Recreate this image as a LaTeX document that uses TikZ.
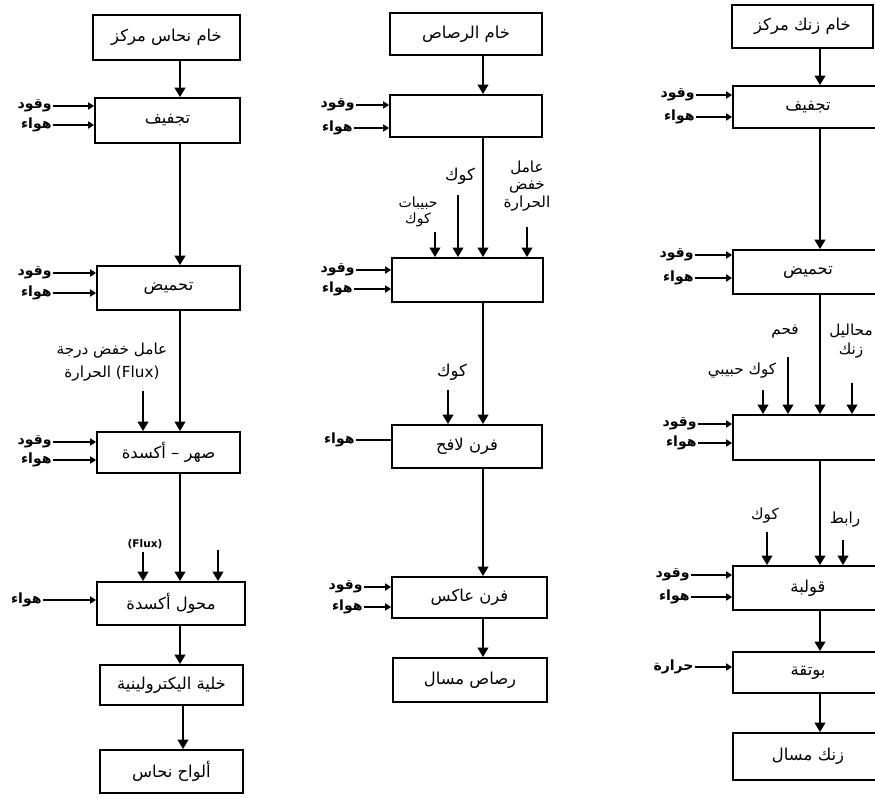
\documentclass[tikz,border=0pt]{standalone}
\usepackage{fontspec}
\setmainfont{DejaVu Sans}
\newfontfamily\arabicfont[Script=Arabic]{DejaVu Sans}
\TeXXeTstate=1
\usetikzlibrary{arrows.meta}
\newcommand{\artxt}[1]{{\arabicfont\beginR #1\endR}}
\begin{document}
\begin{tikzpicture}[x=0.3mm,y=-0.3mm,
  box/.style={draw, line width=1.6pt, inner sep=2pt, font=\fontsize{14}{16}\selectfont},
  wh/.style 2 args={minimum width=#1*0.3mm, minimum height=#2*0.3mm},
  lbl/.style={inner sep=1pt, font=\bfseries\fontsize{12}{14}\selectfont},
  flow/.style={line width=1.6pt, -{Triangle[length=8pt,width=9pt]}},
  feed/.style={line width=1.5pt, -{Triangle[length=5pt,width=6pt]}},
  plain/.style={line width=1.5pt}]
\useasboundingbox[fill=white] (0,0) rectangle (875,798);
\coordinate (cux) at (180,0);
\coordinate (pux) at (483,0);
\coordinate (zux) at (820,0);
\node[box, wh={147}{45}] (c1) at (166.5,37.5) {\artxt{خام نحاس مركز}};
\node[box, wh={145}{45}] (c2) at (167.5,120.5) {\artxt{تجفيف}};
\node[box, wh={143}{44}] (c3) at (168.5,288) {\artxt{تحميض}};
\node[box, wh={143}{41}] (c4) at (168.5,452.5) {\artxt{صهر – أكسدة}};
\node[box, wh={148}{43}] (c5) at (171,603.5) {\artxt{محول أكسدة}};
\node[box, wh={143}{40}] (c6) at (171.5,685) {\artxt{خلية اليكترولينية}};
\node[box, wh={143}{43}] (c7) at (171.5,771.5) {\artxt{ألواح نحاس}};
\draw[flow] (c1.south -| cux) -- (c2.north -| cux);
\draw[flow] (c2.south -| cux) -- (c3.north -| cux);
\draw[flow] (c3.south -| cux) -- (c4.north -| cux);
\draw[flow] (c4.south -| cux) -- (c5.north -| cux);
\draw[flow] (c5.south -| cux) -- (c6.north -| cux);
\draw[flow] ([xshift=0.9mm]c6.south -| cux) -- ([xshift=0.9mm]c7.north -| cux);
\node[lbl, anchor=east] (c2a) at (53,106) {\artxt{وقود}};
\node[lbl, anchor=east] (c2b) at (53,125) {\artxt{هواء}};
\draw[feed] (c2a.east) -- (c2a.east -| c2.west);
\draw[feed] (c2b.east) -- (c2b.east -| c2.west);
\node[lbl, anchor=east] (c3a) at (53,273) {\artxt{وقود}};
\node[lbl, anchor=east] (c3b) at (53,293) {\artxt{هواء}};
\draw[feed] (c3a.east) -- (c3a.east -| c3.west);
\draw[feed] (c3b.east) -- (c3b.east -| c3.west);
\node[lbl, anchor=east] (c4a) at (53,442) {\artxt{وقود}};
\node[lbl, anchor=east] (c4b) at (53,460) {\artxt{هواء}};
\draw[feed] (c4a.east) -- (c4a.east -| c4.west);
\draw[feed] (c4b.east) -- (c4b.east -| c4.west);
\node[lbl, anchor=east] (c5a) at (43,600) {\artxt{هواء}};
\draw[feed] (c5a.east) -- (c5a.east -| c5.west);
\node[lbl, align=center, font=\fontsize{13}{20}\selectfont] (c4t) at (112,362) {\artxt{عامل خفض درجة}\\\artxt{الحرارة} (Flux)};
\coordinate (c4u) at (143,391);
\draw[flow] (c4u) -- (c4u |- c4.north);
\node[lbl, font=\bfseries\fontsize{9}{10}\selectfont] (c5t) at (145,544) {(Flux)};
\coordinate (c5u) at (143,552);
\coordinate (c5v) at (218,550);
\draw[flow] (c5u) -- (c5u |- c5.north);
\draw[flow] (c5v) -- (c5v |- c5.north);
\node[box, wh={152}{42}] (p1) at (466,34) {\artxt{خام الرصاص}};
\node[box, wh={152}{42}] (p2) at (466,116) {};
\node[box, wh={151}{44}] (p3) at (467.5,280) {};
\node[box, wh={150}{43}] (p4) at (467,446.5) {\artxt{فرن لافح}};
\node[box, wh={155}{41}] (p5) at (469.5,597.5) {\artxt{فرن عاكس}};
\node[box, wh={154}{44}] (p6) at (470,680) {\artxt{رصاص مسال}};
\draw[flow] (p1.south -| pux) -- (p2.north -| pux);
\draw[flow] (p2.south -| pux) -- (p3.north -| pux);
\draw[flow] (p3.south -| pux) -- (p4.north -| pux);
\draw[flow] (p4.south -| pux) -- (p5.north -| pux);
\draw[flow] (p5.south -| pux) -- (p6.north -| pux);
\node[lbl, anchor=east] (p2a) at (356,105) {\artxt{وقود}};
\node[lbl, anchor=east] (p2b) at (354,128) {\artxt{هواء}};
\draw[feed] (p2a.east) -- (p2a.east -| p2.west);
\draw[feed] (p2b.east) -- (p2b.east -| p2.west);
\node[lbl, anchor=east] (p3a) at (356,270) {\artxt{وقود}};
\node[lbl, anchor=east] (p3b) at (354,289) {\artxt{هواء}};
\draw[feed] (p3a.east) -- (p3a.east -| p3.west);
\draw[feed] (p3b.east) -- (p3b.east -| p3.west);
\node[lbl, anchor=east] (p4a) at (356,440) {\artxt{هواء}};
\draw[plain] (p4a.east) -- (p4a.east -| p4.west);
\node[lbl, anchor=east] (p5a) at (364,587) {\artxt{وقود}};
\node[lbl, anchor=east] (p5b) at (364,607) {\artxt{هواء}};
\draw[feed] (p5a.east) -- (p5a.east -| p5.west);
\draw[feed] (p5b.east) -- (p5b.east -| p5.west);
\node[lbl, align=center, font=\fontsize{12}{14}\selectfont] (p3t) at (418,212) {\artxt{حبيبات}\\\artxt{كوك}};
\coordinate (p3u) at (435,232);
\draw[flow] (p3u) -- (p3u |- p3.north);
\node[lbl, font=\fontsize{14}{16}\selectfont] (p3k) at (460,176) {\artxt{كوك}};
\coordinate (p3v) at (458,195);
\draw[flow] (p3v) -- (p3v |- p3.north);
\node[lbl, align=center, font=\fontsize{13}{15}\selectfont] (p3r) at (527,186) {\artxt{عامل}\\\artxt{خفض}\\\artxt{الحرارة}};
\coordinate (p3w) at (527,227);
\draw[flow] (p3w) -- (p3w |- p3.north);
\node[lbl, font=\fontsize{14}{16}\selectfont] (p4k) at (452,372) {\artxt{كوك}};
\coordinate (p4u) at (448,390);
\draw[flow] (p4u) -- (p4u |- p4.north);
\node[box, wh={141}{43}] (z1) at (802.5,26.5) {\artxt{خام زنك مركز}};
\node[box, wh={150}{42}, text width=100*0.3mm, align=center] (z2) at (808,107) {\artxt{تجفيف}};
\node[box, wh={150}{44}, text width=100*0.3mm, align=center] (z3) at (808,272) {\artxt{تحميض}};
\node[box, wh={150}{45}] (z4) at (808,437.5) {};
\node[box, wh={150}{44}, text width=100*0.3mm, align=center] (z5) at (808,588) {\artxt{قولبة}};
\node[box, wh={150}{41}, text width=100*0.3mm, align=center] (z6) at (808,672.5) {\artxt{بوتقة}};
\node[box, wh={150}{47}, text width=100*0.3mm, align=center] (z7) at (808,756.5) {\artxt{زنك مسال}};
\draw[flow] (z1.south -| zux) -- (z2.north -| zux);
\draw[flow] (z2.south -| zux) -- (z3.north -| zux);
\draw[flow] (z3.south -| zux) -- (z4.north -| zux);
\draw[flow] (z4.south -| zux) -- (z5.north -| zux);
\draw[flow] (z5.south -| zux) -- (z6.north -| zux);
\draw[flow] (z6.south -| zux) -- (z7.north -| zux);
\node[lbl, anchor=east] (z2a) at (696,95) {\artxt{وقود}};
\node[lbl, anchor=east] (z2b) at (696,117) {\artxt{هواء}};
\draw[feed] (z2a.east) -- (z2a.east -| z2.west);
\draw[feed] (z2b.east) -- (z2b.east -| z2.west);
\node[lbl, anchor=east] (z3a) at (695,255) {\artxt{وقود}};
\node[lbl, anchor=east] (z3b) at (695,278) {\artxt{هواء}};
\draw[feed] (z3a.east) -- (z3a.east -| z3.west);
\draw[feed] (z3b.east) -- (z3b.east -| z3.west);
\node[lbl, anchor=east] (z4a) at (698,424) {\artxt{وقود}};
\node[lbl, anchor=east] (z4b) at (698,443) {\artxt{هواء}};
\draw[feed] (z4a.east) -- (z4a.east -| z4.west);
\draw[feed] (z4b.east) -- (z4b.east -| z4.west);
\node[lbl, anchor=east] (z5a) at (691,575) {\artxt{وقود}};
\node[lbl, anchor=east] (z5b) at (691,597) {\artxt{هواء}};
\draw[feed] (z5a.east) -- (z5a.east -| z5.west);
\draw[feed] (z5b.east) -- (z5b.east -| z5.west);
\node[lbl, anchor=east] (z6a) at (695,667) {\artxt{حرارة}};
\draw[feed] (z6a.east) -- (z6a.east -| z6.west);
\node[lbl, font=\fontsize{13}{15}\selectfont] (z4f) at (785,331) {\artxt{فحم}};
\coordinate (z4u) at (788,357);
\draw[flow] (z4u) -- (z4u |- z4.north);
\node[lbl, font=\fontsize{13}{15}\selectfont] (z4k) at (742,371) {\artxt{كوك حبيبي}};
\coordinate (z4v) at (763,390);
\draw[flow] (z4v) -- (z4v |- z4.north);
\node[lbl, align=center, font=\fontsize{13}{16}\selectfont] (z4m) at (851,341) {\artxt{محاليل}\\\artxt{زنك}};
\coordinate (z4w) at (852,383);
\draw[flow] (z4w) -- (z4w |- z4.north);
\node[lbl, font=\fontsize{13}{15}\selectfont] (z5k) at (765,516) {\artxt{كوك}};
\coordinate (z5u) at (767,532);
\draw[flow] (z5u) -- (z5u |- z5.north);
\node[lbl, font=\fontsize{13}{15}\selectfont] (z5r) at (845,520) {\artxt{رابط}};
\coordinate (z5v) at (843,540);
\draw[flow] (z5v) -- (z5v |- z5.north);
\end{tikzpicture}
\end{document}
